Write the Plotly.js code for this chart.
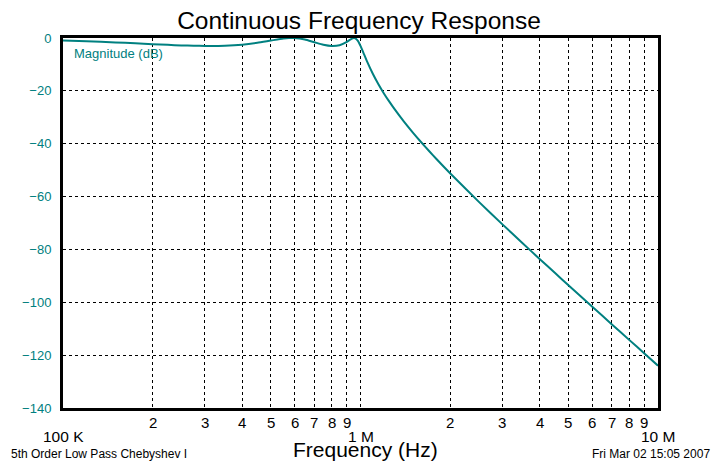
<!DOCTYPE html>
<html>
<head>
<meta charset="utf-8">
<script src="https://cdn.plot.ly/plotly-3.0.1.min.js"></script>
<style>
  html, body { margin: 0; padding: 0; background: #ffffff; }
  #chart { width: 720px; height: 467px; }
</style>
</head>
<body>
<div id="chart"></div>
<script>
// ---- Data ----
const freqHz = [
  100e3, 120e3, 150e3, 175e3, 200e3, 225e3, 250e3, 275e3, 300e3, 325e3,
  350e3, 400e3, 450e3, 500e3, 550e3, 575e3, 600e3, 625e3, 650e3, 700e3,
  750e3, 800e3, 850e3, 900e3, 920e3, 930e3, 950e3, 960e3, 970e3, 980e3,
  990e3, 1.0e6, 1.01e6, 1.02e6, 1.03e6, 1.05e6, 1.1e6, 1.15e6, 1.2e6, 1.25e6,
  1.3e6, 1.4e6, 1.5e6, 1.6e6, 1.7e6, 1.8e6, 2e6, 2.5e6, 3e6, 3.5e6,
  4e6, 4.5e6, 5e6, 6e6, 7e6, 8e6, 9e6, 10e6
];
const magnitudeDb = [
  -0.90, -1.21, -1.67, -2.02, -2.34, -2.60, -2.81, -2.94, -3.01, -2.99,
  -2.91, -2.51, -1.82, -0.97, -0.22, -0.03, -0.03, -0.23, -0.60, -1.61,
  -2.54, -3.00, -2.72, -1.46, -0.73, -0.39, 0.00, -0.10, -0.53, -1.11,
  -1.98, -3.01, -4.13, -5.28, -6.43, -8.66, -13.54, -17.60, -21.06, -24.09,
  -26.84, -31.64, -35.78, -39.45, -42.76, -45.79, -51.17, -62.02, -70.53, -77.57,
  -83.59, -88.86, -93.54, -101.59, -108.37, -114.22, -119.37, -123.97
];
const yTickVals = [-140, -120, -100, -80, -60, -40, -20, 0];
const xGridVals = [
  2e5, 3e5, 4e5, 5e5, 6e5, 7e5, 8e5, 9e5, 1e6,
  2e6, 3e6, 4e6, 5e6, 6e6, 7e6, 8e6, 9e6
];
const minorLabelVals = [2e5, 3e5, 4e5, 5e5, 6e5, 7e5, 8e5, 9e5, 2e6, 3e6, 4e6, 5e6, 6e6, 7e6, 8e6, 9e6];
const minorLabelText = ["2", "3", "4", "5", "6", "7", "8", "9", "2", "3", "4", "5", "6", "7", "8", "9"];
const decadeVals = [1e5, 1e6, 1e7];
const decadeText = ["100 K", "1 M", "10 M"];

// ---- Layout geometry (pixels) ----
const W = 720, H = 467;
const L = 63, R = 658, T = 38, B = 408.5;
const PW = R - L, PH = B - T;
const px2paperX = x => (x - L) / PW;
const px2paperY = y => (B - y) / PH;

const teal = '#008080';
const FONT = 'Arial, "Liberation Sans", sans-serif';

const annotations = [];
minorLabelVals.forEach((v, i) => {
  annotations.push({
    xref: 'x', yref: 'paper', x: Math.log10(v), y: px2paperY(423.5),
    text: minorLabelText[i], showarrow: false, xanchor: 'center', yanchor: 'middle',
    font: { family: FONT, size: 15, color: '#000000' }
  });
});
decadeVals.forEach((v, i) => {
  annotations.push({
    xref: 'x', yref: 'paper', x: Math.log10(v), y: px2paperY(437.5),
    text: decadeText[i], showarrow: false, xanchor: 'center', yanchor: 'middle',
    font: { family: FONT, size: 15.5, color: '#000000' }
  });
});
annotations.push({
  xref: 'paper', yref: 'paper', x: px2paperX(365), y: px2paperY(450.5),
  text: 'Frequency (Hz)', showarrow: false, xanchor: 'center', yanchor: 'middle',
  font: { family: FONT, size: 21, color: '#000000' }
});
annotations.push({
  xref: 'paper', yref: 'paper', x: px2paperX(8.5), y: px2paperY(455),
  text: '5th Order Low Pass Chebyshev I', showarrow: false, xanchor: 'left', yanchor: 'middle',
  font: { family: FONT, size: 12, color: '#000000' }
});
annotations.push({
  xref: 'paper', yref: 'paper', x: px2paperX(712), y: px2paperY(455),
  text: 'Fri Mar 02 15:05 2007', showarrow: false, xanchor: 'right', yanchor: 'middle',
  font: { family: FONT, size: 12, color: '#000000' }
});
annotations.push({
  xref: 'paper', yref: 'paper', x: px2paperX(72), y: px2paperY(54),
  text: 'Magnitude (dB)', showarrow: false, xanchor: 'left', yanchor: 'middle',
  font: { family: FONT, size: 13, color: teal }
});

const trace = {
  x: freqHz, y: magnitudeDb, type: 'scatter', mode: 'lines',
  line: { color: teal, width: 2, shape: 'spline', smoothing: 0.6 },
  hoverinfo: 'skip', showlegend: false, cliponaxis: true
};

const layout = {
  width: W, height: H,
  paper_bgcolor: '#ffffff', plot_bgcolor: '#ffffff',
  margin: { l: L, r: W - R, t: T, b: H - B, pad: 0 },
  title: {
    text: 'Continuous Frequency Response',
    x: 359 / W, xref: 'container', xanchor: 'center',
    y: 1 - 20 / H, yref: 'container', yanchor: 'middle',
    font: { family: FONT, size: 24.5, color: '#000000' }
  },
  xaxis: {
    type: 'log', range: [5, 7], autorange: false,
    tickvals: xGridVals, showticklabels: false, ticks: '',
    showgrid: true, gridcolor: '#000000', gridwidth: 1, griddash: '3px,3px',
    showline: true, linecolor: '#000000', linewidth: 3, mirror: true,
    zeroline: false, fixedrange: true
  },
  yaxis: {
    range: [-140, 0], autorange: false,
    tickvals: yTickVals, ticks: '', ticklabelstandoff: 6,
    tickfont: { family: FONT, size: 13, color: teal },
    showgrid: true, gridcolor: '#000000', gridwidth: 1, griddash: '3px,3px',
    showline: true, linecolor: '#000000', linewidth: 3, mirror: true,
    zeroline: false, fixedrange: true
  },
  annotations: annotations
};

Plotly.newPlot('chart', [trace], layout, { staticPlot: true, displayModeBar: false });
</script>
</body>
</html>
